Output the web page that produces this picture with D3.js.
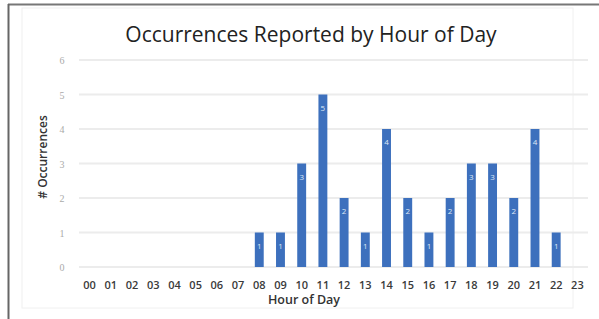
<!DOCTYPE html>
<html>
<head>
<meta charset="utf-8">
<script src="https://cdn.jsdelivr.net/npm/d3@7"></script>
<style>
  body { margin: 0; background: #fff; }
  svg { display: block; }
</style>
</head>
<body>
<svg id="chart"></svg>
<script>
const hours = ["00","01","02","03","04","05","06","07","08","09","10","11",
               "12","13","14","15","16","17","18","19","20","21","22","23"]
const occurrences = [0,0,0,0,0,0,0,0,1,1,3,5,2,1,4,2,1,2,3,3,2,4,1,0]
const yTicks = [0,1,2,3,4,5,6]

const width = 599, height = 319
const margin = {top: 60, right: 11, bottom: 52, left: 79}

const svg = d3.select("#chart")
              .attr("width", width)
              .attr("height", height)

// outer frame (photo of a sheet)
svg.append("line")
   .attr("x1", 8).attr("x2", width).attr("y1", 4.5).attr("y2", 4.5)
   .attr("stroke", "#777").attr("stroke-width", 2)
svg.append("line")
   .attr("x1", 8.5).attr("x2", 8.5).attr("y1", 4).attr("y2", height)
   .attr("stroke", "#666").attr("stroke-width", 2)
svg.append("rect")
   .attr("x", 22).attr("y", 8).attr("width", 551).attr("height", 300)
   .attr("fill", "none").attr("stroke", "#f0f0f0")

const x = d3.scaleBand()
            .domain(hours)
            .range([margin.left, width - margin.right])
            .paddingInner(0.58)
            .paddingOuter(0.29)

const y = d3.scaleLinear()
            .domain([0, 6])
            .range([height - margin.bottom, margin.top])

const g = svg.append("g")

// gridlines
g.selectAll(".grid")
 .data(yTicks)
 .join("line")
   .attr("x1", margin.left)
   .attr("x2", width - margin.right)
   .attr("y1", d => y(d))
   .attr("y2", d => y(d))
   .attr("stroke", "#ececec")
   .attr("stroke-width", 2)

// y tick labels
g.selectAll(".ytick")
 .data(yTicks)
 .join("text")
   .attr("x", 62)
   .attr("y", d => y(d) + 4)
   .attr("text-anchor", "middle")
   .style("font-family", "Liberation Serif, serif")
   .style("font-size", "10px")
   .attr("fill", "#aaa")
   .text(d => d)

// bars
const barData = hours.map((h, i) => ({h, v: occurrences[i]})).filter(d => d.v > 0)

g.selectAll(".bar")
 .data(barData)
 .join("rect")
   .attr("x", d => x(d.h))
   .attr("y", d => y(d.v))
   .attr("width", x.bandwidth())
   .attr("height", d => y(0) - y(d.v))
   .attr("fill", "#3d70bd")

// data labels
g.selectAll(".lbl")
 .data(barData)
 .join("text")
   .attr("x", d => x(d.h) + x.bandwidth() / 2)
   .attr("y", d => y(d.v) + 16)
   .attr("text-anchor", "middle")
   .style("font-family", "Open Sans, sans-serif")
   .style("font-size", "8px")
   .attr("fill", "#dfe8f5")
   .text(d => d.v)

// x tick labels
g.selectAll(".xtick")
 .data(hours)
 .join("text")
   .attr("x", d => x(d) + x.bandwidth() / 2)
   .attr("y", 289)
   .attr("text-anchor", "middle")
   .style("font-family", "Open Sans, sans-serif")
   .style("font-size", "11px")
   .style("font-weight", "600")
   .attr("fill", "#3a3a3a")
   .text(d => d)

// axis titles
svg.append("text")
   .attr("x", 304)
   .attr("y", 304)
   .attr("text-anchor", "middle")
   .style("font-family", "Open Sans, sans-serif")
   .style("font-size", "12.5px")
   .style("font-weight", "600")
   .attr("fill", "#333")
   .text("Hour of Day")

svg.append("text")
   .attr("transform", "translate(47,157) rotate(-90)")
   .attr("text-anchor", "middle")
   .style("font-family", "Open Sans, sans-serif")
   .style("font-size", "12px")
   .style("font-weight", "600")
   .attr("fill", "#333")
   .text("# Occurrences")

svg.append("text")
   .attr("x", 311)
   .attr("y", 42)
   .attr("text-anchor", "middle")
   .style("font-family", "Open Sans, sans-serif")
   .style("font-size", "21px")
   .attr("fill", "#222")
   .text("Occurrences Reported by Hour of Day")
</script>
</body>
</html>
